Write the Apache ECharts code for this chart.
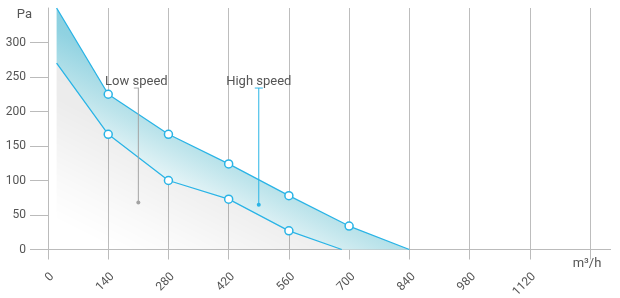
<!DOCTYPE html>
<html>
<head>
<meta charset="utf-8">
<script src="https://cdn.jsdelivr.net/npm/echarts@6/dist/echarts.min.js"></script>
<style>
  html, body { margin: 0; padding: 0; background: #fff; }
  #fan { width: 620px; height: 298px; }
</style>
</head>
<body>
<div id="fan"></div>
<script>
// airflow (m³/h) and pressure (Pa)
var highFlow = [20, 140, 280, 420, 560, 700, 840];
var highPa   = [350, 225, 167, 124, 78, 34, 0];
var lowFlow  = [20, 140, 280, 420, 560, 683];
var lowPa    = [270, 167, 100, 73, 27, 0];

// callouts
var noteNames = ['Low speed', 'High speed'];
var noteFlow  = [210, 490];
var noteDotPa = [68, 65];
var noteTopPa = [234, 234];

var cyan = '#2ab4e6';
var gray = '#a3a3a3';

function curve(xs, ys) {
  return xs.map(function (x, i) {
    var item = { value: [x, ys[i]] };
    // no marker on the first and the last point
    if (i === 0 || i === xs.length - 1) item.symbol = 'none';
    return item;
  });
}

function note(i, color, tick, tickOffset) {
  return {
    type: 'line',
    z: 4,
    silent: true,
    lineStyle: { color: color, width: 1 },
    data: [
      { value: [noteFlow[i], noteDotPa[i]], symbol: 'circle', symbolSize: 4,
        itemStyle: { color: color, borderWidth: 0 } },
      { value: [noteFlow[i], noteTopPa[i]], symbol: 'rect', symbolSize: tick,
        symbolOffset: tickOffset, itemStyle: { color: color, borderWidth: 0 },
        label: { show: true, position: 'top', distance: -1, formatter: noteNames[i],
          color: '#555', fontSize: 13, fontFamily: 'Roboto' } }
    ]
  };
}

var myChart = echarts.init(document.getElementById('fan'));

var option = {
  animation: false,
  grid: { left: 48, right: 30, top: 8, bottom: 48.5, containLabel: false, outerBoundsMode: 'none' },
  textStyle: { fontFamily: 'Roboto' },
  xAxis: {
    type: 'value',
    min: 0,
    max: 1260,
    interval: 140,
    name: 'm³/h',
    nameLocation: 'end',
    nameGap: -3,
    nameMoveOverlap: false,
    nameTextStyle: { color: '#555', fontSize: 13, align: 'center', verticalAlign: 'top', padding: [8, 0, 0, 0] },
    axisLine: { show: true, lineStyle: { color: '#bbb', width: 1 },
      symbol: ['none', 'rect'], symbolSize: [1, 42] },
    axisTick: { show: true, length: 10, lineStyle: { color: '#bbb' } },
    axisLabel: {
      rotate: 45, margin: 21, verticalAlign: 'top', color: '#555', fontSize: 12,
      formatter: function (v) { return v === 1260 ? '' : v; }
    },
    splitLine: { show: true, showMaxLine: true, lineStyle: { color: '#bdbdbd', width: 1 } }
  },
  yAxis: {
    type: 'value',
    min: 0,
    max: 350,
    interval: 50,
    name: 'Pa',
    nameLocation: 'end',
    nameGap: -7,
    nameTextStyle: { color: '#555', fontSize: 13, align: 'right', verticalAlign: 'middle', padding: [0, 16, 0, 0] },
    axisLine: { show: true, lineStyle: { color: '#bbb', width: 1 } },
    axisTick: { show: true, length: 18, lineStyle: { color: '#bbb' } },
    axisLabel: { margin: 22, color: '#555', fontSize: 12, showMaxLabel: false },
    splitLine: { show: false }
  },
  series: [
    {
      // band between the two speeds
      type: 'custom',
      z: 2,
      silent: true,
      data: [[0, 0]],
      renderItem: function (params, api) {
        var pts = [];
        for (var i = 0; i < highFlow.length; i++) pts.push(api.coord([highFlow[i], highPa[i]]));
        for (var j = lowFlow.length - 1; j >= 0; j--) pts.push(api.coord([lowFlow[j], lowPa[j]]));
        return {
          type: 'polygon',
          shape: { points: pts },
          style: {
            fill: new echarts.graphic.LinearGradient(0.35, 0, 0, 1, [
              { offset: 0, color: '#7acadc' },
              { offset: 0.28, color: '#90d2e1' },
              { offset: 0.45, color: '#bde4eb' },
              { offset: 0.6, color: '#eaf6f8' },
              { offset: 1, color: '#ffffff' }
            ]),
            stroke: 'none'
          }
        };
      }
    },
    {
      name: 'low',
      type: 'line',
      z: 3,
      data: curve(lowFlow, lowPa),
      symbol: 'circle',
      symbolSize: 8,
      lineStyle: { color: cyan, width: 1.3 },
      itemStyle: { color: '#fff', borderColor: cyan, borderWidth: 1.5 },
      areaStyle: {
        color: new echarts.graphic.LinearGradient(0.33, 0, 0, 1, [
          { offset: 0, color: 'rgba(0,0,0,0.12)' },
          { offset: 0.35, color: 'rgba(0,0,0,0.105)' },
          { offset: 0.5, color: 'rgba(0,0,0,0.075)' },
          { offset: 0.7, color: 'rgba(0,0,0,0.03)' },
          { offset: 0.88, color: 'rgba(0,0,0,0)' }
        ])
      }
    },
    {
      name: 'high',
      type: 'line',
      z: 3,
      data: curve(highFlow, highPa),
      symbol: 'circle',
      symbolSize: 8,
      lineStyle: { color: cyan, width: 1.3 },
      itemStyle: { color: '#fff', borderColor: cyan, borderWidth: 1.5 }
    },
    note(0, gray, [5, 1], [-2, 0]),
    note(1, cyan, [8, 1], [0, 0])
  ]
};

myChart.setOption(option);
</script>
</body>
</html>
